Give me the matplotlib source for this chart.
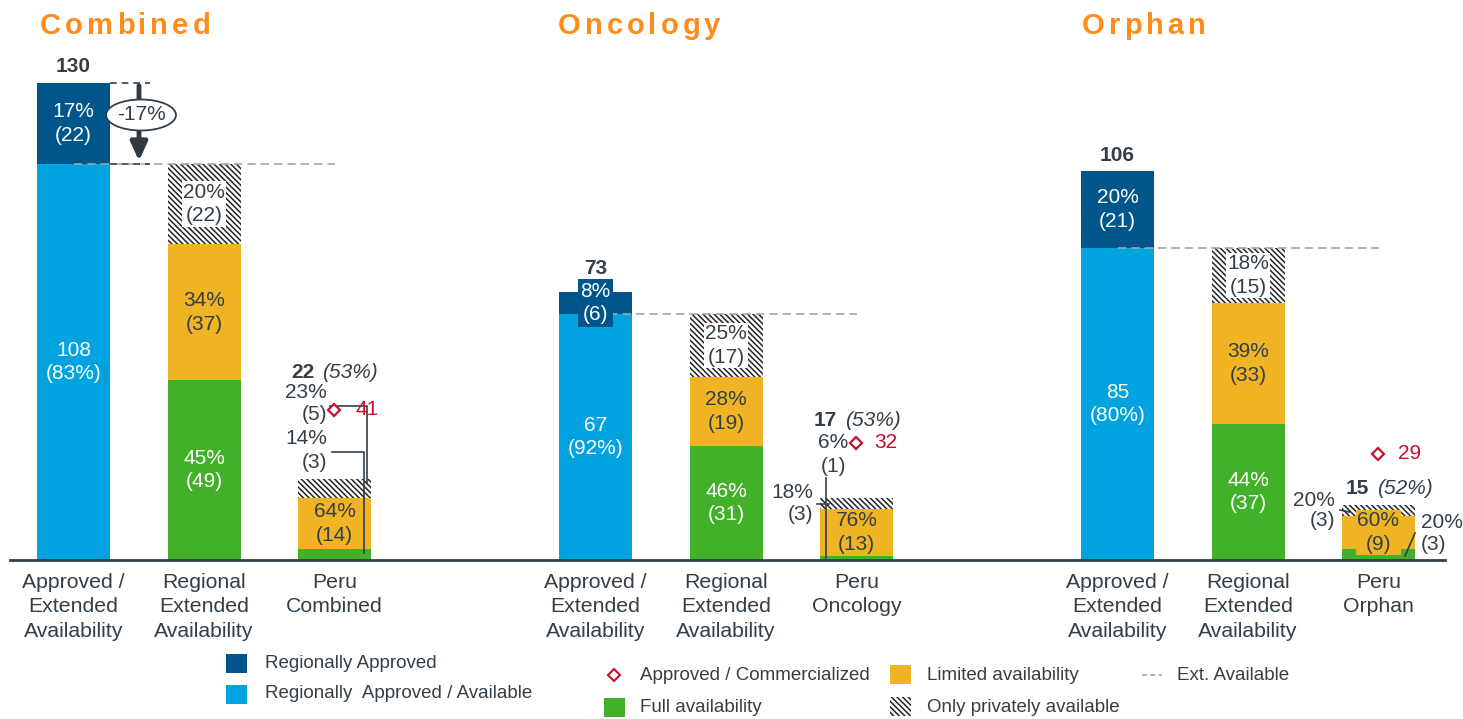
import numpy as np
import matplotlib
matplotlib.use("Agg")
import matplotlib.pyplot as plt
from matplotlib.patches import Rectangle, Ellipse
from matplotlib.font_manager import FontProperties

plt.rcParams['font.family'] = ['Liberation Sans', 'DejaVu Sans']
plt.rcParams['hatch.linewidth'] = 1.1

# ---- data ----
groups = ['Combined', 'Oncology', 'Orphan']
cat_labels = [['Approved /\nExtended\nAvailability', 'Regional\nExtended\nAvailability', 'Peru\nCombined'],
              ['Approved /\nExtended\nAvailability', 'Regional\nExtended\nAvailability', 'Peru\nOncology'],
              ['Approved /\nExtended\nAvailability', 'Regional\nExtended\nAvailability', 'Peru\nOrphan']]

approved_avail = [108, 67, 85]
approved_avail_pct = ['83%', '92%', '80%']
approved_only = [22, 6, 21]
approved_only_pct = ['17%', '8%', '20%']
approved_total = [130, 73, 106]

regional_full = [49, 31, 37]
regional_limited = [37, 19, 33]
regional_private = [22, 17, 15]
regional_full_pct = ['45%', '46%', '44%']
regional_limited_pct = ['34%', '28%', '39%']
regional_private_pct = ['20%', '25%', '18%']

peru_full = [3, 1, 3]
peru_limited = [14, 13, 9]
peru_private = [5, 3, 3]
peru_full_pct = ['14%', '6%', '20%']
peru_limited_pct = ['64%', '76%', '60%']
peru_private_pct = ['23%', '18%', '20%']
peru_total = [22, 17, 15]
peru_share = ['53%', '53%', '52%']
commercialized = [41, 32, 29]
decline = '-17%'

# ---- style ----
DARK = '#00558A'
LIGHT = '#00A3E0'
ORANGE = '#F0B323'
GREEN = '#43B02A'
TXT = '#333F48'
RED = '#C8102E'
TITLE = '#FF8C1A'
GREY = '#A5A5A5'
HATCH = '\\\\\\\\\\\\'
FS = 15

W, H = 1463, 719
BASE = 560
S = 477 / 130  # px per unit

fig = plt.figure(figsize=(W / 100, H / 100), dpi=100)
ax = fig.add_axes([0, 0, 1, 1])
ax.set_xlim(0, W)
ax.set_ylim(-(H - BASE) / S, BASE / S)
ax.axis('off')


def yd(py):
    return (BASE - py) / S


def label(x, y, s, color=TXT, bg=None, size=FS, pad=0.5, **kw):
    bbox = dict(facecolor=bg, edgecolor='none', pad=pad) if bg else None
    ax.text(x, y, s, color=color, fontsize=size, ha=kw.pop('ha', 'center'),
            va=kw.pop('va', 'center'), linespacing=1.3, bbox=bbox, zorder=6, **kw)


bw = 73
for g in range(3):
    x0 = 73.5 + 522 * g
    xs = [x0, x0 + 130.5, x0 + 261]

    # approved / extended bar
    ax.bar(xs[0], approved_avail[g], bw, color=LIGHT, zorder=2)
    ax.bar(xs[0], approved_only[g], bw, bottom=approved_avail[g], color=DARK, zorder=2)
    label(xs[0], approved_avail[g] / 2, f'{approved_avail[g]}\n({approved_avail_pct[g]})', color='white')
    label(xs[0], approved_avail[g] + approved_only[g] / 2, f'{approved_only_pct[g]}\n({approved_only[g]})',
          color='white', bg=DARK if g == 1 else None, pad=2)
    off = [16, 24, 16][g]
    label(xs[0], approved_total[g] + off / S, str(approved_total[g]), fontweight='bold')

    # regional bar
    b = 0
    ax.bar(xs[1], regional_full[g], bw, color=GREEN, zorder=2)
    b += regional_full[g]
    ax.bar(xs[1], regional_limited[g], bw, bottom=b, color=ORANGE, zorder=2)
    b += regional_limited[g]
    ax.bar(xs[1], regional_private[g], bw, bottom=b, color='white', edgecolor='#222222',
           linewidth=0, hatch=HATCH, zorder=2)
    label(xs[1], regional_full[g] / 2, f'{regional_full_pct[g]}\n({regional_full[g]})', color='white')
    label(xs[1], regional_full[g] + regional_limited[g] / 2,
          f'{regional_limited_pct[g]}\n({regional_limited[g]})')
    label(xs[1], b + regional_private[g] / 2, f'{regional_private_pct[g]}\n({regional_private[g]})',
          bg='white', pad=1)

    # peru bar
    ax.bar(xs[2], peru_full[g], bw, color=GREEN, zorder=2)
    ax.bar(xs[2], peru_limited[g], bw, bottom=peru_full[g], color=ORANGE, zorder=2)
    ax.bar(xs[2], peru_private[g], bw, bottom=peru_full[g] + peru_limited[g], color='white',
           edgecolor='#222222', linewidth=0, hatch=HATCH, zorder=2)
    label(xs[2], peru_full[g] + peru_limited[g] / 2, f'{peru_limited_pct[g]}\n({peru_limited[g]})',
          bg=ORANGE if g == 2 else None, pad=1)
    ax.plot(xs[2] - 1, commercialized[g], marker='D', ms=6.5, mfc='white', mec=RED, mew=1.6,
            ls='none', zorder=7)

    # ext. available line
    ax.plot([xs[0], xs[2]], [approved_avail[g]] * 2, color=GREY, lw=1.2, ls=(0, (5, 3)), zorder=4)

    # category labels
    for i in range(3):
        ax.text(xs[i], yd(573), cat_labels[g][i], ha='center', va='top', fontsize=15.3,
                color=TXT, linespacing=1.36)

# baseline
ax.plot([10, 1445], [0, 0], color=TXT, lw=2, zorder=5)

# titles with letter spacing
renderer = fig.canvas.get_renderer()
tprop = FontProperties(family='Liberation Sans', weight='bold', size=21)
for g, name in enumerate(groups):
    x = [40, 558, 1082][g]
    for ch in name:
        ax.text(x, yd(26), ch, fontproperties=tprop, color=TITLE, ha='left', va='center')
        w, _, _ = renderer.get_text_width_height_descent(ch, tprop, ismath=False)
        x += w + 4

# combined decline arrow
ax.plot([110, 150], [130, 130], color=TXT, lw=1.2, ls=(0, (4, 3)), zorder=4)
ax.plot([110, 150], [108, 108], color=TXT, lw=1.2, ls=(0, (4, 3)), zorder=4)
ax.annotate('', xy=(139, 108), xytext=(139, 130),
            arrowprops=dict(arrowstyle='-|>,head_width=0.5,head_length=1.1', color='#2D3A42', lw=3.5),
            zorder=5)
ax.add_patch(Ellipse((141, yd(115)), 70, 31 / S, facecolor='white', edgecolor=TXT, lw=1.3, zorder=6))
label(141, yd(115), decline)

# ---- peru annotations ----
# combined
label(314, yd(372), str(peru_total[0]), ha='right', fontweight='bold')
label(322, yd(372), f'({peru_share[0]})', ha='left', style='italic')
label(327, yd(393), f'{peru_private_pct[0]}', ha='right')
label(327, yd(414), f'({peru_private[0]})', ha='right')
label(327, yd(439), f'{peru_full_pct[0]}', ha='right')
label(327, yd(463), f'({peru_full[0]})', ha='right')
label(355, commercialized[0], str(commercialized[0]), color=RED, ha='left')
ax.plot([330, 367, 367], [yd(406), yd(406), yd(483)], color=TXT, lw=1.2, zorder=5)
ax.plot([332, 364, 364], [yd(452), yd(452), yd(553)], color=TXT, lw=1.2, zorder=5)

# oncology
label(837, yd(420), str(peru_total[1]), ha='right', fontweight='bold')
label(845, yd(420), f'({peru_share[1]})', ha='left', style='italic')
label(848, yd(443), f'{peru_full_pct[1]}', ha='right')
label(833, yd(467), f'({peru_full[1]})')
label(874, commercialized[1], str(commercialized[1]), color=RED, ha='left')
label(813, yd(493), f'{peru_private_pct[1]}', ha='right')
label(813, yd(514), f'({peru_private[1]})', ha='right')
ax.plot([826, 826], [yd(478), yd(558)], color=TXT, lw=1.2, zorder=5)
ax.plot([817, 829], [yd(504), yd(504)], color=TXT, lw=1.2, zorder=5)

# orphan
label(1369, yd(489), str(peru_total[2]), ha='right', fontweight='bold')
label(1377, yd(489), f'({peru_share[2]})', ha='left', style='italic')
label(1398, commercialized[2], str(commercialized[2]), color=RED, ha='left')
label(1335, yd(500), f'{peru_private_pct[2]}', ha='right')
label(1335, yd(521), f'({peru_private[2]})', ha='right')
label(1421, yd(522), f'{peru_full_pct[2]}', ha='left')
label(1421, yd(545), f'({peru_full[2]})', ha='left')
ax.plot([1340, 1349], [yd(510), yd(512)], color=TXT, lw=1.2, zorder=5)
ax.plot([1415, 1405], [yd(533), yd(556)], color=TXT, lw=1.2, zorder=5)

# ---- legend (pixel layout) ----
lay = fig.add_axes([0, 0, 1, 1], facecolor='none')
lay.set_xlim(0, W)
lay.set_ylim(H, 0)
lay.axis('off')


def swatch(x, y, color, hatch=None):
    lay.add_patch(Rectangle((x, y), 21, 19, facecolor=color, edgecolor='#222222' if hatch else 'none',
                            lw=0, hatch=hatch))


def ltext(x, y, s):
    lay.text(x, y, s, fontsize=13.5, color=TXT, ha='left', va='center')


swatch(226, 654, DARK)
ltext(265, 663, 'Regionally Approved')
swatch(226, 685, LIGHT)
ltext(265, 694, 'Regionally  Approved / Available')
lay.plot(614, 675, marker='D', ms=6, mfc='white', mec=RED, mew=1.5)
ltext(640, 676, 'Approved / Commercialized')
swatch(604, 698, GREEN)
ltext(640, 708, 'Full availability')
swatch(890, 665, ORANGE)
ltext(927, 676, 'Limited availability')
swatch(890, 697, 'white', hatch=HATCH)
ltext(927, 708, 'Only privately available')
lay.plot([1142, 1162], [675, 675], color=GREY, lw=1.2, ls=(0, (3, 2)))
ltext(1177, 676, 'Ext. Available')

fig.savefig('out.png', dpi=100)
